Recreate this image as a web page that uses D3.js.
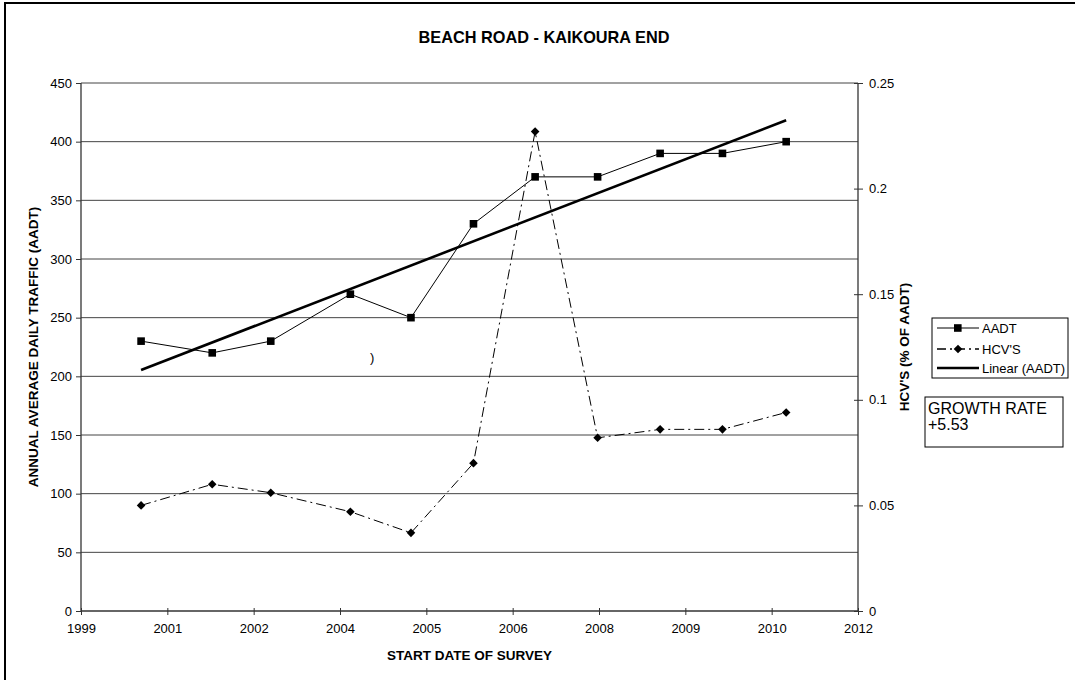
<!DOCTYPE html>
<html>
<head>
<meta charset="utf-8">
<script src="https://cdn.jsdelivr.net/npm/d3@7"></script>
<style>
  body { margin: 0; background: #fff; }
  svg text { font-family: "Liberation Sans", Arial, sans-serif; fill: #000; }
</style>
</head>
<body>
<svg id="canvas" width="1075" height="680"></svg>
<script>
// survey dates and values
let surveyDates = ['2000-11-07', '2001-12-24', '2002-11-28', '2004-03-03', '2005-02-17', '2006-02-14',
                   '2007-02-06', '2008-02-03', '2009-01-30', '2010-01-26', '2011-01-30']
let aadtValues = [230, 220, 230, 270, 250, 330, 370, 370, 390, 390, 400]
let hcvValues = [0.05, 0.06, 0.056, 0.047, 0.037, 0.07, 0.227, 0.082, 0.086, 0.086, 0.094]

let xTickLabels = ['1999', '2001', '2002', '2004', '2005', '2006', '2008', '2009', '2010', '2012']
let leftTicks = [0, 50, 100, 150, 200, 250, 300, 350, 400, 450]
let rightTicks = [0, 0.05, 0.1, 0.15, 0.2, 0.25]
let rightTickLabels = ['0', '0.05', '0.1', '0.15', '0.2', '0.25']

let legendNames = ['AADT', "HCV'S", 'Linear (AADT)']
let growthText = ['GROWTH RATE', '+5.53']

let plotLeft = 81, plotRight = 858, plotTop = 83, plotBottom = 611

let canvas = d3.select('#canvas')
let parse = d3.timeParse('%Y-%m-%d')

// excel date axis: one major unit every 500 days
let axisStart = parse('1999-11-25')
let tickDates = xTickLabels.map((d, i) => d3.timeDay.offset(axisStart, 500 * i))

let xScale = d3.scaleTime()
               .domain([axisStart, tickDates[tickDates.length - 1]])
               .range([plotLeft, plotRight])
let yLeft = d3.scaleLinear().domain([0, 450]).range([plotBottom, plotTop])
let yRight = d3.scaleLinear().domain([0, 0.25]).range([plotBottom, plotTop])

let points = surveyDates.map((d, i) => {
    return { date: parse(d), aadt: aadtValues[i], hcv: hcvValues[i] }
})

// outer frame
canvas.append('rect')
      .attr('x', 5).attr('y', 3)
      .attr('width', 1090).attr('height', 700)
      .attr('fill', 'none')
      .attr('stroke', '#000')
      .attr('stroke-width', 2)

// gridlines
canvas.append('g')
      .selectAll('line')
      .data(leftTicks.slice(1))
      .enter()
      .append('line')
      .attr('x1', plotLeft).attr('x2', plotRight)
      .attr('y1', (d) => yLeft(d)).attr('y2', (d) => yLeft(d))
      .attr('stroke', '#444')
      .attr('stroke-width', 1)

// axes
let leftAxis = d3.axisLeft(yLeft).tickValues(leftTicks).tickSize(5).tickPadding(4)
let rightAxis = d3.axisRight(yRight).tickValues(rightTicks).tickSize(5).tickPadding(6)
                  .tickFormat((d, i) => rightTickLabels[i])
let bottomAxis = d3.axisBottom(xScale).tickValues(tickDates).tickSize(4).tickPadding(9)
                   .tickFormat((d, i) => xTickLabels[i])

let styleAxis = (g) => {
    g.selectAll('.domain').attr('stroke', '#333').attr('stroke-width', 1.3)
    g.selectAll('.tick line').attr('stroke', '#333')
    g.selectAll('text').style('font-size', '13px').attr('fill', '#000')
}

let la = canvas.append('g').attr('transform', 'translate(' + plotLeft + ',0)').call(leftAxis).call(styleAxis)
la.select('.domain').attr('d', 'M0,' + plotTop + 'V' + plotBottom)
let ra = canvas.append('g').attr('transform', 'translate(' + plotRight + ',0)').call(rightAxis).call(styleAxis)
ra.select('.domain').attr('d', 'M0,' + plotTop + 'V' + plotBottom)
ra.selectAll('.tick line').attr('x1', -4)
let ba = canvas.append('g').attr('transform', 'translate(0,' + plotBottom + ')').call(bottomAxis).call(styleAxis)
ba.select('.domain').attr('d', 'M' + plotLeft + ',0H' + plotRight)
ba.selectAll('.tick line').attr('y1', -3)

// trend line (least squares on AADT, x in days)
let xs = points.map((p) => p.date.getTime())
let meanX = d3.mean(xs)
let meanY = d3.mean(aadtValues)
let slope = d3.sum(xs, (x, i) => (x - meanX) * (aadtValues[i] - meanY)) /
            d3.sum(xs, (x) => (x - meanX) * (x - meanX))
let trend = [points[0].date, points[points.length - 1].date].map((d) => {
    return { date: d, v: meanY + slope * (d.getTime() - meanX) }
})

canvas.append('path')
      .datum(trend)
      .attr('d', d3.line().x((d) => xScale(d.date)).y((d) => yLeft(d.v)))
      .attr('fill', 'none')
      .attr('stroke', '#000')
      .attr('stroke-width', 2.6)

// HCV'S dash-dot line
canvas.append('path')
      .datum(points)
      .attr('d', d3.line().x((d) => xScale(d.date)).y((d) => yRight(d.hcv)))
      .attr('fill', 'none')
      .attr('stroke', '#000')
      .attr('stroke-width', 1)
      .attr('stroke-dasharray', '10,4,2,4')

let diamond = 'M0,-4.3L4.3,0L0,4.3L-4.3,0Z'

canvas.append('g')
      .selectAll('path')
      .data(points)
      .enter()
      .append('path')
      .attr('d', diamond)
      .attr('transform', (d) => 'translate(' + xScale(d.date) + ',' + yRight(d.hcv) + ')')
      .attr('fill', '#000')

// AADT line
canvas.append('path')
      .datum(points)
      .attr('d', d3.line().x((d) => xScale(d.date)).y((d) => yLeft(d.aadt)))
      .attr('fill', 'none')
      .attr('stroke', '#000')
      .attr('stroke-width', 1)

canvas.append('g')
      .selectAll('rect')
      .data(points)
      .enter()
      .append('rect')
      .attr('x', (d) => xScale(d.date) - 3.8)
      .attr('y', (d) => yLeft(d.aadt) - 3.8)
      .attr('width', 7.6).attr('height', 7.6)
      .attr('fill', '#000')

// stray bracket on the original
canvas.append('text').attr('x', 370).attr('y', 362).style('font-size', '13px').text(')')

// titles
canvas.append('text')
      .attr('x', 544).attr('y', 43)
      .attr('text-anchor', 'middle')
      .style('font-size', '16.3px').style('font-weight', 'bold')
      .text('BEACH ROAD - KAIKOURA END')

canvas.append('text')
      .attr('x', (plotLeft + plotRight) / 2).attr('y', 660)
      .attr('text-anchor', 'middle')
      .style('font-size', '13.5px').style('font-weight', 'bold')
      .text('START DATE OF SURVEY')

canvas.append('text')
      .attr('transform', 'translate(38,' + (plotTop + plotBottom) / 2 + ') rotate(-90)')
      .attr('text-anchor', 'middle')
      .style('font-size', '13.5px').style('font-weight', 'bold')
      .text('ANNUAL AVERAGE DAILY TRAFFIC (AADT)')

canvas.append('text')
      .attr('transform', 'translate(909,' + (plotTop + plotBottom) / 2 + ') rotate(-90)')
      .attr('text-anchor', 'middle')
      .style('font-size', '13.5px').style('font-weight', 'bold')
      .text("HCV'S (% OF AADT)")

// legend
let legend = canvas.append('g')
legend.append('rect')
      .attr('x', 932).attr('y', 318).attr('width', 136).attr('height', 60)
      .attr('fill', '#fff').attr('stroke', '#000').attr('stroke-width', 1)

let legendY = [328, 349, 368]
legendNames.forEach((name, i) => {
    let y = legendY[i]
    let line = legend.append('line')
                     .attr('x1', 937).attr('x2', 979)
                     .attr('y1', y).attr('y2', y)
                     .attr('stroke', '#000')
    if (i === 0) {
        line.attr('stroke-width', 1)
        legend.append('rect').attr('x', 954).attr('y', y - 3.8).attr('width', 7.6).attr('height', 7.6).attr('fill', '#000')
    } else if (i === 1) {
        line.attr('stroke-width', 1.6).attr('stroke-dasharray', '9,4,2,4')
        legend.append('path').attr('d', diamond).attr('transform', 'translate(958,' + y + ')').attr('fill', '#000')
    } else {
        line.attr('stroke-width', 2.6)
    }
    legend.append('text')
          .attr('x', 982).attr('y', y + 4.5)
          .style('font-size', '13px')
          .text(name)
})

// growth rate box
canvas.append('rect')
      .attr('x', 925).attr('y', 397).attr('width', 138).attr('height', 50)
      .attr('fill', '#fff').attr('stroke', '#000').attr('stroke-width', 1)

canvas.append('g')
      .selectAll('text')
      .data(growthText)
      .enter()
      .append('text')
      .attr('x', 928)
      .attr('y', (d, i) => 414 + i * 16)
      .style('font-size', '16px')
      .text((d) => d)
</script>
</body>
</html>
